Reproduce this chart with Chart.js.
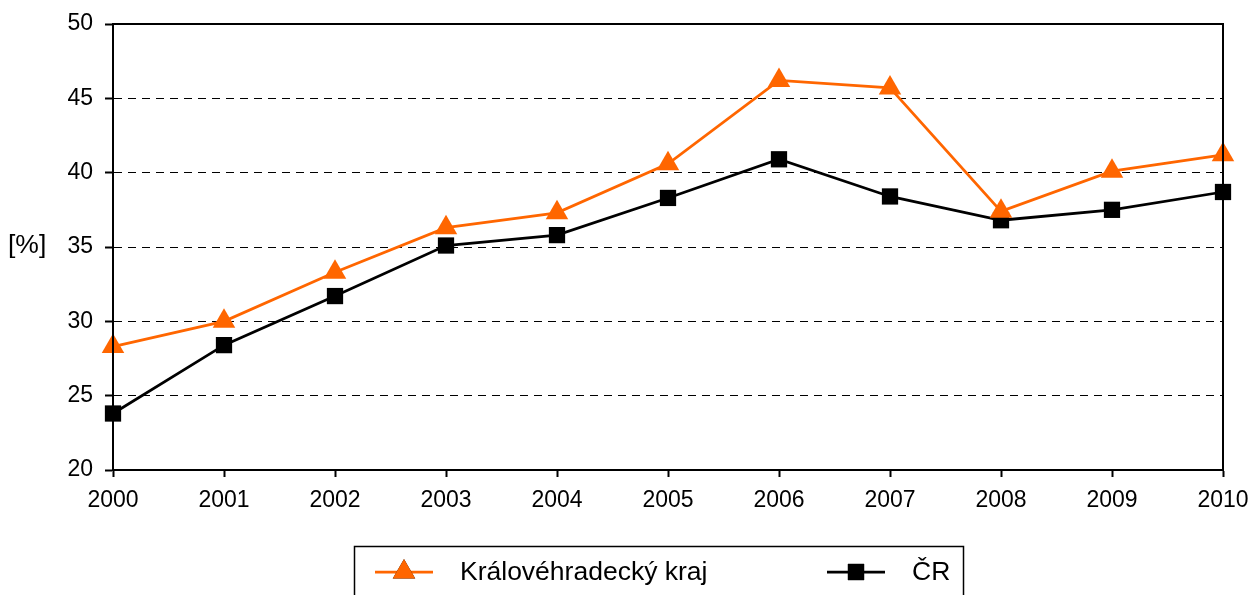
<!DOCTYPE html>
<html lang="cs">
<head>
    <meta charset="UTF-8">
    <title>Královéhradecký kraj a ČR</title>
    <script src="https://cdn.jsdelivr.net/npm/chart.js"></script>
    <style>
        html, body { margin: 0; padding: 0; background: #fff; }
        #wrap { width: 1251px; height: 595px; }
    </style>
</head>
<body>
    <div id="wrap"><canvas id="lineChart"></canvas></div>

    <script>
        const years = ['2000', '2001', '2002', '2003', '2004', '2005', '2006', '2007', '2008', '2009', '2010'];
        const kralovehradecky = [28.3, 30.0, 33.3, 36.3, 37.3, 40.6, 46.2, 45.7, 37.4, 40.1, 41.2];
        const cr = [23.8, 28.4, 31.7, 35.1, 35.8, 38.3, 40.9, 38.4, 36.8, 37.5, 38.7];
        const seriesNames = ['Královéhradecký kraj', 'ČR'];
        const yTitle = '[%]';

        const FONT = 'Liberation Sans, Arial, sans-serif';
        const FSIZE = 23;
        const BIG = 26.5;

        // rámeček, popisek osy y a legenda
        const extras = {
            id: 'extras',
            afterDraw(chart) {
                const ctx = chart.ctx;
                const a = chart.chartArea;
                ctx.save();
                ctx.strokeStyle = '#000';
                ctx.lineWidth = 2;
                ctx.strokeRect(a.left, a.top, a.right - a.left, a.bottom - a.top);

                ctx.fillStyle = '#000';
                ctx.font = BIG + 'px ' + FONT;
                ctx.textAlign = 'left';
                ctx.textBaseline = 'middle';
                ctx.fillText(yTitle, 8, 246);

                // legenda
                ctx.lineWidth = 1.5;
                ctx.strokeRect(354.5, 546.5, 609, 60);
                const items = [
                    { x: 375, text: 460, ds: chart.data.datasets[0] },
                    { x: 827, text: 912, ds: chart.data.datasets[1] }
                ];
                items.forEach(it => {
                    const y = 572;
                    ctx.strokeStyle = it.ds.borderColor;
                    ctx.lineWidth = it.ds.borderWidth;
                    ctx.beginPath();
                    ctx.moveTo(it.x, y);
                    ctx.lineTo(it.x + 58, y);
                    ctx.stroke();
                    Chart.helpers.drawPoint(ctx, {
                        pointStyle: it.ds.pointStyle,
                        radius: it.ds.pointRadius,
                        borderWidth: 0
                    }, it.x + 29, y);
                    ctx.fillStyle = it.ds.pointBackgroundColor;
                    ctx.fill();
                    ctx.fillStyle = '#000';
                    ctx.font = BIG + 'px ' + FONT;
                    ctx.fillText(it.ds.label, it.text, y + 1);
                });
                ctx.restore();
            }
        };

        const ctx = document.getElementById('lineChart').getContext('2d');
        new Chart(ctx, {
            type: 'line',
            data: {
                labels: years,
                datasets: [{
                    label: seriesNames[0],
                    data: kralovehradecky,
                    borderColor: '#FF6600',
                    backgroundColor: '#FF6600',
                    pointBackgroundColor: '#FF6600',
                    pointBorderWidth: 0,
                    borderWidth: 2.75,
                    pointStyle: 'triangle',
                    pointRadius: 13,
                    tension: 0,
                    clip: false
                }, {
                    label: seriesNames[1],
                    data: cr,
                    borderColor: '#000000',
                    backgroundColor: '#000000',
                    pointBackgroundColor: '#000000',
                    pointBorderWidth: 0,
                    borderWidth: 2.75,
                    pointStyle: 'rect',
                    pointRadius: 11.5,
                    tension: 0,
                    clip: false
                }]
            },
            options: {
                responsive: true,
                maintainAspectRatio: false,
                animation: false,
                layout: { padding: { left: 0, right: 28, top: 24, bottom: 0 } },
                plugins: {
                    legend: { display: false },
                    tooltip: { enabled: false }
                },
                scales: {
                    x: {
                        offset: false,
                        grid: {
                            drawOnChartArea: false,
                            drawTicks: true,
                            tickLength: 7,
                            color: '#000',
                            tickWidth: 2
                        },
                        border: { color: '#000', width: 2 },
                        ticks: {
                            color: '#000',
                            font: { family: FONT, size: FSIZE },
                            padding: 10,
                            maxRotation: 0,
                            autoSkip: false
                        },
                        afterFit(scale) {
                            scale.height = 125;
                            scale.paddingLeft = 0;
                            scale.paddingRight = 0;
                        }
                    },
                    y: {
                        min: 20,
                        max: 50,
                        grid: {
                            color: '#000',
                            lineWidth: 1,
                            tickLength: 8,
                            tickWidth: 2,
                            tickBorderDash: []
                        },
                        border: { color: '#000', width: 2, dash: [8, 6] },
                        ticks: {
                            stepSize: 5,
                            color: '#000',
                            font: { family: FONT, size: FSIZE },
                            padding: 12
                        },
                        afterFit(scale) {
                            scale.width = 113;
                            scale.paddingTop = 0;
                            scale.paddingBottom = 0;
                        }
                    }
                }
            },
            plugins: [extras]
        });
    </script>
</body>
</html>
